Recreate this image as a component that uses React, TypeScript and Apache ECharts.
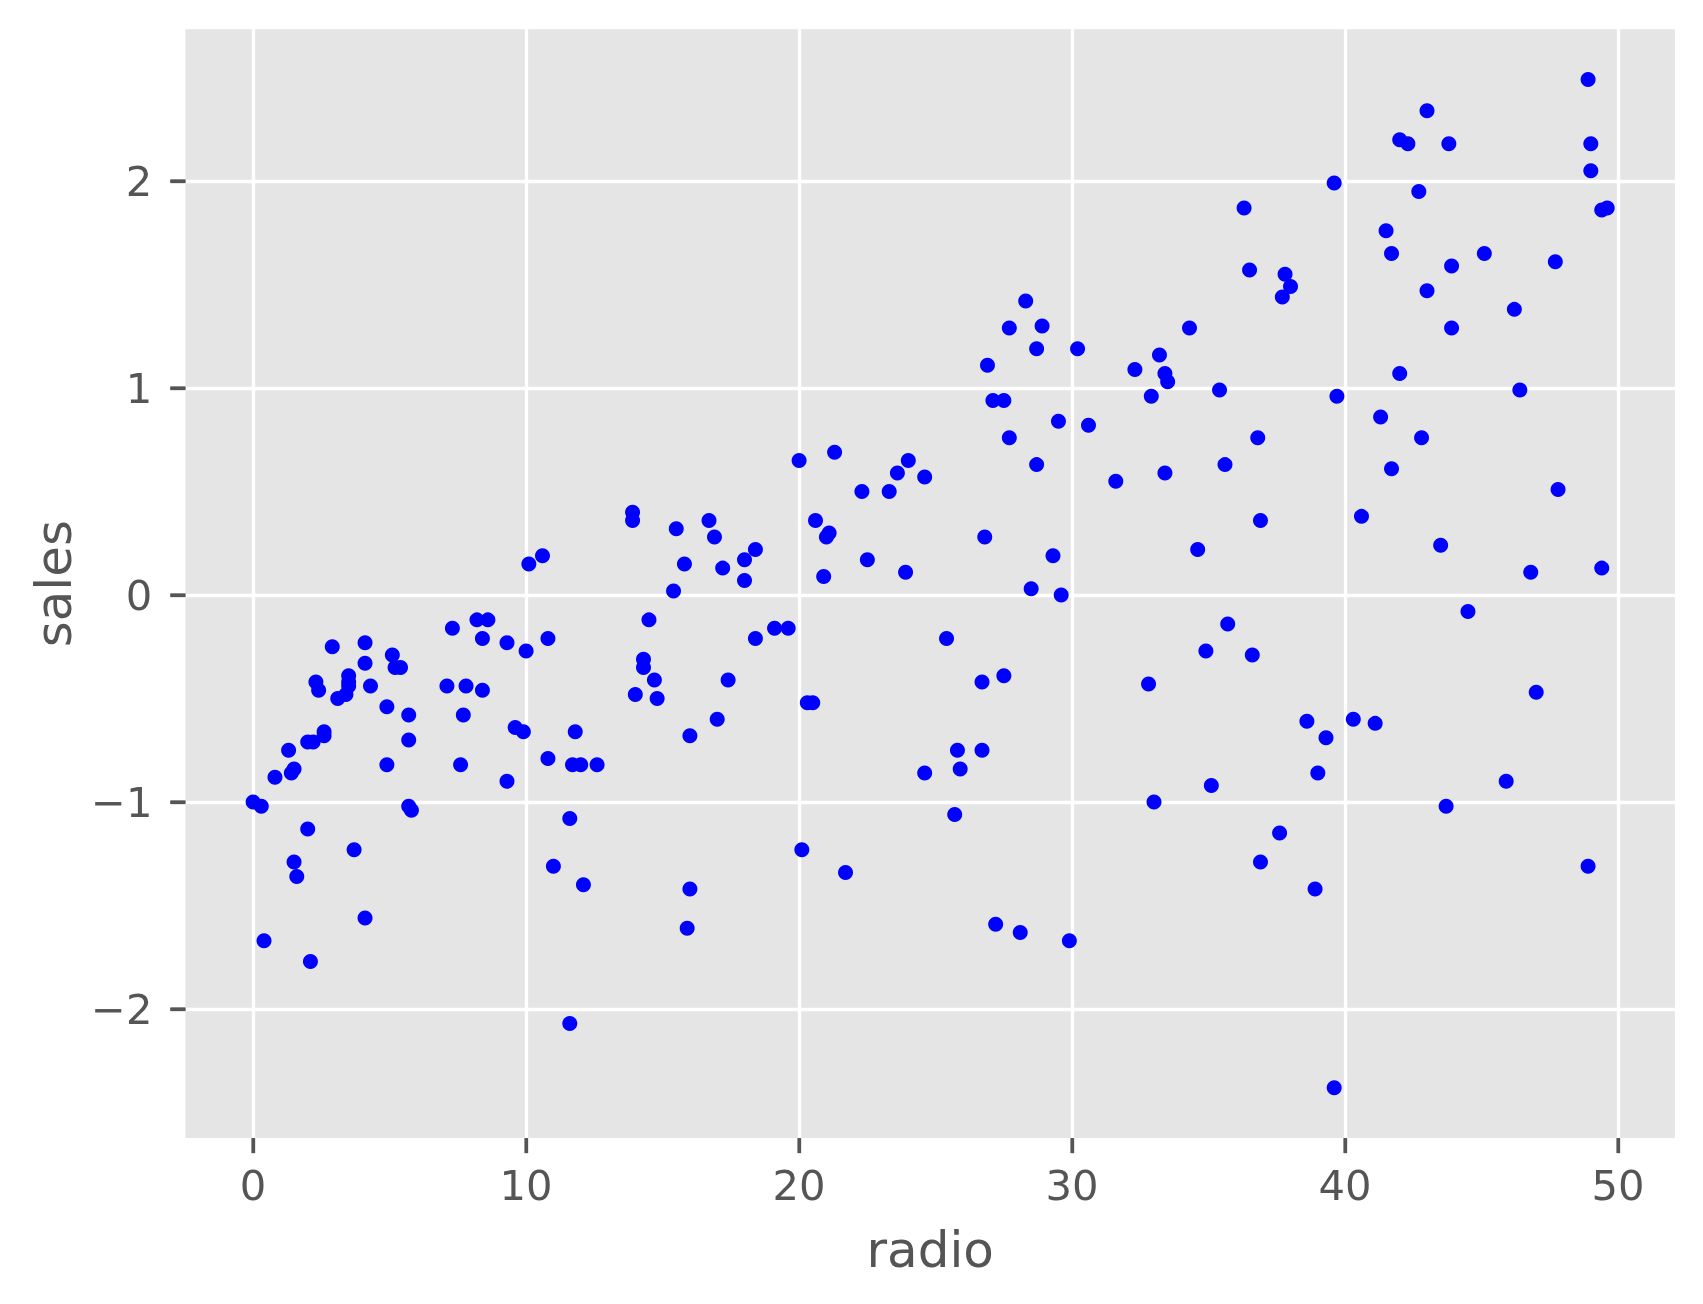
import React, { useEffect, useRef } from "react";
import * as echarts from "echarts";

const radio = [
  0.0, 0.3, 0.4, 0.8, 1.3, 1.4, 1.5, 1.5, 1.6, 2.0,
  2.2, 2.0, 2.1, 2.3, 2.4, 2.6, 2.6, 2.9, 3.1, 3.4,
  3.5, 3.5, 3.5, 3.7, 4.1, 4.1, 4.1, 4.3, 4.9, 4.9,
  5.1, 5.2, 5.4, 5.7, 5.7, 5.7, 5.8, 7.1, 7.3, 7.6,
  7.7, 7.8, 8.2, 8.4, 8.4, 8.6, 9.3, 9.3, 9.6, 9.9,
  10.0, 10.1, 10.6, 10.8, 10.8, 11.0, 11.6, 11.6, 11.7, 11.8,
  12.0, 12.1, 12.6, 13.9, 13.9, 14.0, 14.3, 14.3, 14.5, 14.7,
  14.8, 15.4, 15.5, 15.8, 16.0, 16.0, 15.9, 16.7, 16.9, 17.0,
  17.2, 17.4, 18.0, 18.0, 18.4, 18.4, 19.1, 19.6, 20.0, 20.1,
  20.3, 20.5, 20.6, 20.9, 21.0, 21.1, 21.3, 21.7, 22.3, 22.5,
  23.3, 23.6, 23.9, 24.0, 24.6, 24.6, 25.4, 25.7, 25.8, 25.9,
  26.7, 26.7, 26.8, 26.9, 27.1, 27.2, 27.5, 27.5, 27.7, 27.7,
  28.1, 28.3, 28.5, 28.7, 28.7, 28.9, 29.3, 29.5, 29.6, 29.9,
  30.2, 30.6, 31.6, 32.3, 32.8, 32.9, 33.0, 33.2, 33.4, 33.4,
  33.5, 34.3, 34.6, 34.9, 35.1, 35.4, 35.6, 35.7, 36.3, 36.5,
  36.6, 36.8, 36.9, 36.9, 37.6, 37.7, 37.8, 38.0, 38.6, 38.9,
  39.0, 39.3, 39.6, 39.6, 39.7, 40.3, 40.6, 41.1, 41.3, 41.5,
  41.7, 41.7, 42.0, 42.0, 42.3, 42.7, 42.8, 43.0, 43.0, 43.5,
  43.7, 43.8, 43.9, 43.9, 44.5, 45.1, 45.9, 46.2, 46.4, 46.8,
  47.0, 47.7, 47.8, 48.9, 48.9, 49.0, 49.0, 49.4, 49.4, 49.6,
];

const sales = [
  -1.0, -1.02, -1.67, -0.88, -0.75, -0.86, -0.84, -1.29, -1.36, -0.71,
  -0.71, -1.13, -1.77, -0.42, -0.46, -0.66, -0.68, -0.25, -0.5, -0.48,
  -0.39, -0.44, -0.42, -1.23, -0.23, -0.33, -1.56, -0.44, -0.54, -0.82,
  -0.29, -0.35, -0.35, -0.58, -0.7, -1.02, -1.04, -0.44, -0.16, -0.82,
  -0.58, -0.44, -0.12, -0.21, -0.46, -0.12, -0.23, -0.9, -0.64, -0.66,
  -0.27, 0.15, 0.19, -0.21, -0.79, -1.31, -1.08, -2.07, -0.82, -0.66,
  -0.82, -1.4, -0.82, 0.4, 0.36, -0.48, -0.31, -0.35, -0.12, -0.41,
  -0.5, 0.02, 0.32, 0.15, -0.68, -1.42, -1.61, 0.36, 0.28, -0.6,
  0.13, -0.41, 0.17, 0.07, 0.22, -0.21, -0.16, -0.16, 0.65, -1.23,
  -0.52, -0.52, 0.36, 0.09, 0.28, 0.3, 0.69, -1.34, 0.5, 0.17,
  0.5, 0.59, 0.11, 0.65, 0.57, -0.86, -0.21, -1.06, -0.75, -0.84,
  -0.42, -0.75, 0.28, 1.11, 0.94, -1.59, 0.94, -0.39, 1.29, 0.76,
  -1.63, 1.42, 0.03, 0.63, 1.19, 1.3, 0.19, 0.84, 0.0, -1.67,
  1.19, 0.82, 0.55, 1.09, -0.43, 0.96, -1.0, 1.16, 0.59, 1.07,
  1.03, 1.29, 0.22, -0.27, -0.92, 0.99, 0.63, -0.14, 1.87, 1.57,
  -0.29, 0.76, 0.36, -1.29, -1.15, 1.44, 1.55, 1.49, -0.61, -1.42,
  -0.86, -0.69, 1.99, -2.38, 0.96, -0.6, 0.38, -0.62, 0.86, 1.76,
  0.61, 1.65, 2.2, 1.07, 2.18, 1.95, 0.76, 2.34, 1.47, 0.24,
  -1.02, 2.18, 1.59, 1.29, -0.08, 1.65, -0.9, 1.38, 0.99, 0.11,
  -0.47, 1.61, 0.51, 2.49, -1.31, 2.18, 2.05, 1.86, 0.13, 1.87,
];

const xTicks = [0, 10, 20, 30, 40, 50];
const yTicks = [-2, -1, 0, 1, 2];
const xName = "radio";
const yName = "sales";

const X_MIN = -2.48;
const X_MAX = 52.08;
const Y_MIN = -2.6235;
const Y_MAX = 2.7335;

const FONT = "DejaVu Sans";
const TEXT = "#555555";
const TICK_LEN = 15;
const TICK_W = 3.3;

export default function App() {
  const ref = useRef<HTMLDivElement>(null);
  useEffect(() => {
    const chart = echarts.init(ref.current!, null, { renderer: "svg" });
    chart.setOption({
      animation: false,
      grid: {
        left: 185.4,
        top: 29.2,
        width: 1489.5,
        height: 1108.9,
        show: true,
        backgroundColor: "#E5E5E5",
        borderWidth: 0,
      },
      xAxis: {
        type: "value",
        min: X_MIN,
        max: X_MAX,
        name: xName,
        nameLocation: "middle",
        nameGap: 87,
        nameTextStyle: { fontSize: 50, color: TEXT, fontFamily: FONT },
        axisLine: { show: false, onZero: false },
        axisTick: {
          show: true,
          length: TICK_LEN,
          customValues: xTicks,
          lineStyle: { color: TEXT, width: TICK_W },
        },
        axisLabel: {
          customValues: xTicks,
          margin: 26,
          fontSize: 41.7,
          color: TEXT,
          fontFamily: FONT,
        },
        splitLine: { show: true, lineStyle: { color: "#ffffff", width: 3.3 } },
      },
      yAxis: {
        type: "value",
        min: Y_MIN,
        max: Y_MAX,
        name: yName,
        nameLocation: "middle",
        nameGap: 106,
        nameTextStyle: { fontSize: 50, color: TEXT, fontFamily: FONT },
        axisLine: { show: false, onZero: false },
        axisTick: {
          show: true,
          length: TICK_LEN,
          customValues: yTicks,
          lineStyle: { color: TEXT, width: TICK_W },
        },
        axisLabel: {
          customValues: yTicks,
          margin: 33,
          fontSize: 41.7,
          color: TEXT,
          fontFamily: FONT,
          formatter: (v: number) => String(v).replace("-", "\u2212"),
        },
        splitLine: { show: true, lineStyle: { color: "#ffffff", width: 3.3 } },
      },
      series: [
        {
          type: "scatter",
          data: radio.map((x, i) => [x, sales[i]]),
          symbol: "circle",
          symbolSize: 15,
          itemStyle: { color: "#0000FF", opacity: 1 },
          silent: true,
        },
        {
          // x-axis tick marks through the axis scale (same place as axisTick)
          type: "scatter",
          data: xTicks.map((v) => [v, Y_MIN]),
          symbol: "rect",
          symbolSize: [TICK_W, TICK_LEN],
          symbolOffset: [0, TICK_LEN / 2],
          itemStyle: { color: TEXT, opacity: 1 },
          clip: false,
          silent: true,
          z: 5,
        },
        {
          // y-axis tick marks through the axis scale (same place as axisTick)
          type: "scatter",
          data: yTicks.map((v) => [X_MIN, v]),
          symbol: "rect",
          symbolSize: [TICK_LEN, TICK_W],
          symbolOffset: [-TICK_LEN / 2, 0],
          itemStyle: { color: TEXT, opacity: 1 },
          clip: false,
          silent: true,
          z: 5,
        },
      ],
    });
    return () => chart.dispose();
  }, []);
  return <div ref={ref} style={{ position: "fixed", left: 0, top: 0, width: 1703, height: 1304 }} />;
}
